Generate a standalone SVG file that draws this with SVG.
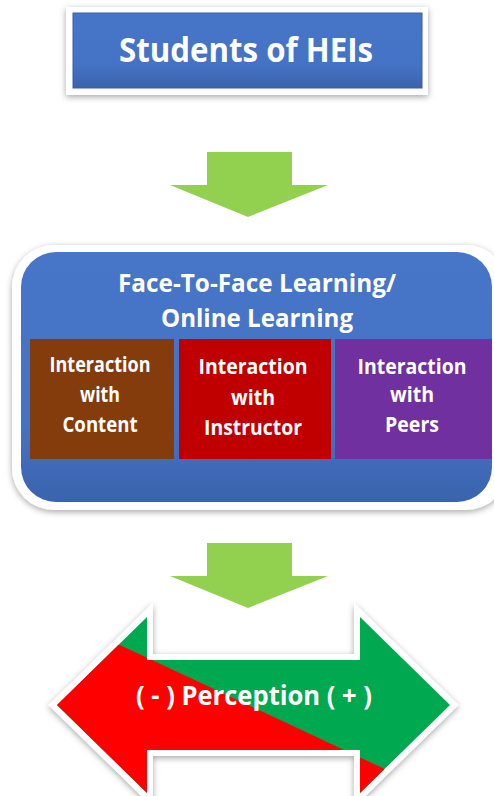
<svg xmlns="http://www.w3.org/2000/svg" width="494" height="796" viewBox="0 0 494 796">
<defs>
<style>
.t{font-family:"Open Sans","Liberation Sans",sans-serif;font-weight:bold;fill:#fff;text-anchor:middle}
.sub{font-family:"Open Sans","Liberation Sans",sans-serif;font-weight:bold;fill:#fff;text-anchor:middle;font-size:22px}
.garrow{fill:#92D050}
</style>
<filter id="sh" x="-10%" y="-10%" width="120%" height="130%">
<feDropShadow dx="0" dy="2" stdDeviation="3" flood-color="#000" flood-opacity="0.35"/>
</filter>
<linearGradient id="blue" x1="0" y1="0" x2="0" y2="1">
<stop offset="0" stop-color="#4775C8"/>
<stop offset="0.7" stop-color="#4472C4"/>
<stop offset="1" stop-color="#3B63AD"/>
</linearGradient>
<clipPath id="arrowClip">
<polygon points="57,705 147,617 147,660 360,660 360,617 450,705 360,793 360,750 147,750 147,793"/>
</clipPath>
</defs>

<g id="students">
<rect x="66" y="7" width="362" height="88" fill="#fff" filter="url(#sh)"/>
<rect x="73" y="13" width="349" height="75" fill="url(#blue)" stroke="#3A5FA6" stroke-width="1"/>
<text class="t" x="246" y="62" font-size="34" textLength="254" lengthAdjust="spacingAndGlyphs">Students of HEIs</text>
</g>

<g id="connectors">
<polygon class="garrow" points="207,152 292,152 292,185 328,185 248,217 170,185 207,185"/>
<polygon class="garrow" points="207,543 292,543 292,576 328,576 248,608 170,576 207,576"/>
</g>

<g id="learning">
<rect x="12" y="245" width="496" height="265" rx="42" fill="#fff" filter="url(#sh)"/>
<rect x="21" y="252" width="471" height="250" rx="35" fill="url(#blue)"/>
<text class="t" x="257" y="292" font-size="25" textLength="278" lengthAdjust="spacingAndGlyphs">Face-To-Face Learning/</text>
<text class="t" x="257" y="327" font-size="25" textLength="192" lengthAdjust="spacingAndGlyphs">Online Learning</text>
</g>

<g id="content">
<rect x="30" y="339" width="144" height="120" fill="#843C0C"/>
<text class="sub" x="100" y="372" textLength="101" lengthAdjust="spacingAndGlyphs">Interaction</text>
<text class="sub" x="100" y="402" textLength="40" lengthAdjust="spacingAndGlyphs">with</text>
<text class="sub" x="100" y="432" textLength="75" lengthAdjust="spacingAndGlyphs">Content</text>
</g>

<g id="instructor">
<rect x="179" y="339" width="152" height="120" fill="#C00000"/>
<text class="sub" x="253" y="374" textLength="109" lengthAdjust="spacingAndGlyphs">Interaction</text>
<text class="sub" x="253" y="405" textLength="44" lengthAdjust="spacingAndGlyphs">with</text>
<text class="sub" x="253" y="435" textLength="98" lengthAdjust="spacingAndGlyphs">Instructor</text>
</g>

<g id="peers">
<rect x="335" y="339" width="157" height="120" fill="#7030A0"/>
<text class="sub" x="412" y="374" textLength="109" lengthAdjust="spacingAndGlyphs">Interaction</text>
<text class="sub" x="412" y="402" textLength="44" lengthAdjust="spacingAndGlyphs">with</text>
<text class="sub" x="412" y="432" textLength="54" lengthAdjust="spacingAndGlyphs">Peers</text>
</g>

<g id="perception">
<polygon points="57,705 147,617 147,660 360,660 360,617 450,705 360,793 360,750 147,750 147,793" fill="#fff" stroke="#fff" stroke-width="12" stroke-linejoin="miter" filter="url(#sh)"/>
<g clip-path="url(#arrowClip)">
<rect x="40" y="600" width="420" height="200" fill="#00A84F"/>
<polygon points="0,589 500,823 0,823" fill="#FF0000"/>
</g>
<text class="t" x="254" y="705" font-size="26" textLength="236" lengthAdjust="spacingAndGlyphs">( - ) Perception ( + )</text>
</g>
</svg>
